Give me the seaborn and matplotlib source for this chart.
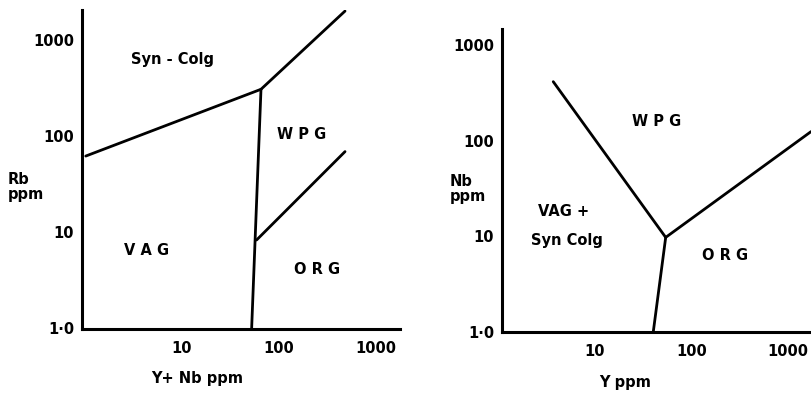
import numpy as np
import pandas as pd
import matplotlib
matplotlib.use("Agg")
import matplotlib.pyplot as plt
import seaborn as sns

sns.set_theme(style="white")
plt.rcParams['font.family'] = ['DejaVu Sans']
plt.rcParams['text.color'] = 'black'
plt.rcParams['axes.labelcolor'] = 'black'
plt.rcParams['xtick.color'] = 'black'
plt.rcParams['ytick.color'] = 'black'

# ---- data: left panel Rb vs (Y+Nb) ----
left_seg = ["a", "a", "b", "b", "c", "c", "d", "d"]
left_x = [1.03, 65.5, 65.5, 480, 65.5, 52.5, 59, 480]
left_y = [62, 307, 307, 2000, 307, 1.0, 8.3, 69]

# ---- data: right panel Nb vs Y ----
right_seg = ["a", "a", "b", "b", "c", "c"]
right_x = [3.69, 54.2, 54.2, 1746, 54.2, 40.3]
right_y = [413, 9.7, 9.7, 124, 9.7, 1.0]

tick_vals = [1, 10, 100, 1000]
y_tick_labels = ["1·0", "10", "100", "1000"]
x_tick_vals = [10, 100, 1000]
x_tick_labels = ["10", "100", "1000"]

left_labels = ["Syn - Colg", "W P G", "V A G", "O R G"]
left_lab_x = [8.1, 173, 4.4, 245]
left_lab_y = [620, 105, 6.5, 4.1]

right_labels = ["W P G", "VAG +", "Syn Colg", "O R G"]
right_lab_x = [43.6, 4.7, 5.1, 223]
right_lab_y = [157, 18, 9.1, 6.2]

fig = plt.figure(figsize=(8.11, 3.93), dpi=100)
W, H = 811, 393

def make_ax(l, r, b, t):
    return fig.add_axes([l / W, (H - b) / H, (r - l) / W, (b - t) / H])

axL = make_ax(81.7, 400, 329.3, 10)
axR = make_ax(501.7, 811, 331.7, 29.3)

dfL = pd.DataFrame({"seg": left_seg, "x": left_x, "y": left_y})
dfR = pd.DataFrame({"seg": right_seg, "x": right_x, "y": right_y})

for ax, df, xl, yl in [
    (axL, dfL, (10 ** -0.029, 10 ** 3.247), (10 ** -0.01, 10 ** 3.312)),
    (axR, dfR, (10 ** 0.032, 10 ** 3.242), (1.0, 10 ** 3.164)),
]:
    sns.lineplot(data=df, x="x", y="y", units="seg", estimator=None, sort=False,
                 color="black", linewidth=2.0, ax=ax, legend=False)
    ax.set_xscale("log")
    ax.set_yscale("log")
    ax.set_xlim(*xl)
    ax.set_ylim(*yl)
    ax.set_xlabel("")
    ax.set_ylabel("")
    ax.set_xticks(x_tick_vals)
    ax.set_xticklabels(x_tick_labels)
    ax.set_yticks(tick_vals)
    ax.set_yticklabels(y_tick_labels)
    ax.minorticks_off()
    for s in ["top", "right"]:
        ax.spines[s].set_visible(False)
    for s in ["left", "bottom"]:
        ax.spines[s].set_color("black")
        ax.spines[s].set_linewidth(2.2)
    ax.tick_params(axis="both", which="major", direction="out", length=4.5,
                   width=1.8, color="black", labelsize=10.5, labelcolor="black")
    ax.tick_params(axis="y", pad=1)
    ax.tick_params(axis="x", pad=4)
    for lab in ax.get_xticklabels() + ax.get_yticklabels():
        lab.set_fontweight("bold")
    ax.patch.set_alpha(0)
    ax.grid(False)

for txt, x, y in zip(left_labels, left_lab_x, left_lab_y):
    axL.text(x, y, txt, ha="center", va="center", fontsize=10.5, fontweight="bold",
             color="black")
for txt, x, y in zip(right_labels, right_lab_x, right_lab_y):
    axR.text(x, y, txt, ha="center", va="center", fontsize=10.5, fontweight="bold",
             color="black")

fig.text(8 / W, 1 - 187 / H, "Rb\nppm", ha="left", va="center", fontsize=10.5,
         fontweight="bold", linespacing=1.0, color="black")
fig.text(450 / W, 1 - 189 / H, "Nb\nppm", ha="left", va="center", fontsize=10.5,
         fontweight="bold", linespacing=1.0, color="black")
fig.text(197 / W, 1 - 378 / H, "Y+ Nb ppm", ha="center", va="center", fontsize=10.5,
         fontweight="bold", color="black")
fig.text(625 / W, 1 - 382.7 / H, "Y ppm", ha="center", va="center", fontsize=10.5,
         fontweight="bold", color="black")

fig.savefig("out.png", dpi=100, facecolor="white")
